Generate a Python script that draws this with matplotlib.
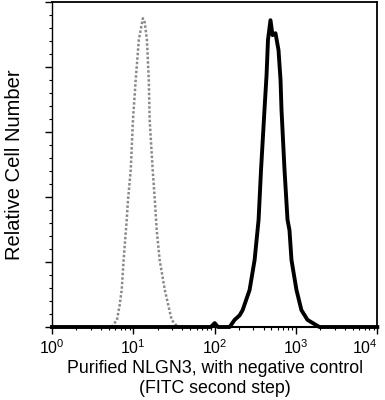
import matplotlib
matplotlib.use("Agg")
import matplotlib.pyplot as plt
from matplotlib.ticker import LogLocator, MultipleLocator, NullFormatter, FixedLocator

plt.rcParams['font.family'] = ['Liberation Sans', 'DejaVu Sans']
plt.rcParams['mathtext.default'] = 'regular'

# Negative control histogram (FITC intensity, relative count)
ctrl_x = [5.4, 6.3, 6.8, 7.2, 7.6, 8.3, 8.6, 9.3, 9.9, 10.7, 11.7, 13.1, 13.8,
          14.7, 15.5, 15.9, 17.3, 18.4, 19.4, 21.1, 24.4, 29.6, 35.2]
ctrl_y = [0.0, 0.11, 0.34, 0.57, 1.03, 1.65, 1.95, 2.42, 3.18, 3.80, 4.42, 4.75, 4.69,
          4.42, 3.80, 3.18, 2.42, 1.95, 1.49, 1.03, 0.57, 0.11, 0.0]

# Purified NLGN3 histogram
samp_x = [1, 90, 100, 110, 153, 176, 203, 221, 269, 310, 347, 372, 410, 435, 453,
          486, 515, 560, 610, 646, 664, 723, 787, 832, 881, 1014, 1167, 1384,
          1941, 10000]
samp_y = [0.0, 0.0, 0.06, 0.0, 0.0, 0.11, 0.18, 0.26, 0.57, 1.03, 1.65, 2.42, 3.34,
          3.88, 4.42, 4.72, 4.49, 4.52, 4.26, 3.80, 3.34, 2.42, 1.65, 1.49, 1.03,
          0.57, 0.26, 0.11, 0.0, 0.0]

x_ticks = [1, 10, 100, 1000, 10000]
x_ticklabels = ['$10^{0}$', '$10^{1}$', '$10^{2}$', '$10^{3}$', '$10^{4}$']

fig = plt.figure(figsize=(3.85, 4.0), dpi=100)
ax = fig.add_axes([0.135, 0.1825, 0.845, 0.8125])

ax.plot(ctrl_x, ctrl_y, color='#8a8a8a', lw=1.8, linestyle=(0, (1, 0.8)))
ax.plot(samp_x, samp_y, color='black', lw=2.8, clip_on=False, solid_joinstyle='round')

ax.set_xscale('log')
ax.set_xlim(1, 10000)
ax.set_ylim(0, 5)

ax.xaxis.set_major_locator(FixedLocator(x_ticks))
ax.set_xticklabels(x_ticklabels, fontsize=11.5)
ax.get_xticklabels()[-1].set_horizontalalignment('right')
ax.get_xticklabels()[-1].set_x(10000)
ax.xaxis.set_minor_locator(LogLocator(base=10, subs=range(2, 10)))
ax.xaxis.set_minor_formatter(NullFormatter())
ax.yaxis.set_major_locator(MultipleLocator(1))
ax.yaxis.set_minor_locator(MultipleLocator(0.2))
ax.set_yticklabels([])

ax.tick_params(axis='x', which='major', direction='out', length=5, width=1, pad=3)
ax.tick_params(axis='x', which='minor', direction='out', length=2.5, width=0.8)
ax.tick_params(axis='y', which='major', direction='out', length=5, width=1)
ax.tick_params(axis='y', which='minor', direction='out', length=2.5, width=0.8)

for s in ['top', 'right']:
    ax.spines[s].set_linewidth(1.3)
    ax.spines[s].set_linestyle((0, (3, 1)))
ax.spines['left'].set_linewidth(1.0)
ax.spines['bottom'].set_linewidth(1.5)

ax.set_xlabel('Purified NLGN3, with negative control\n(FITC second step)',
              fontsize=12.8, linespacing=1.3, labelpad=2)
ax.set_ylabel('Relative Cell Number', fontsize=14.5, labelpad=12)

fig.savefig('out.png', dpi=100)
